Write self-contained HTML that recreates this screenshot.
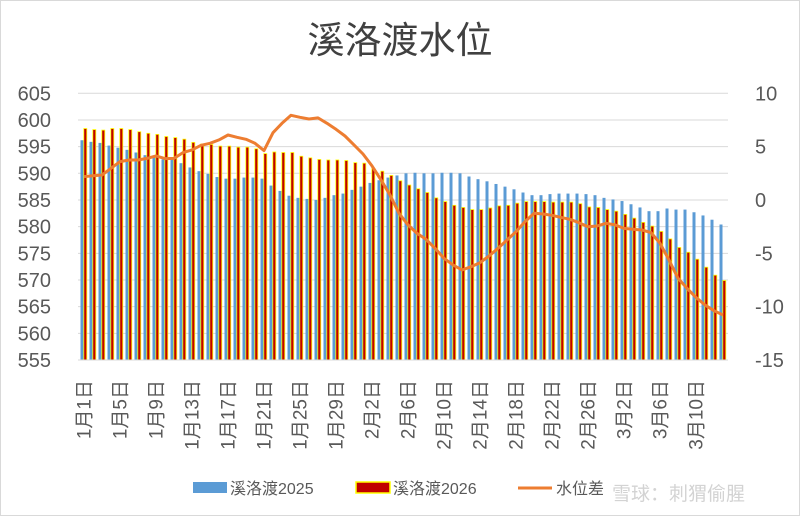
<!DOCTYPE html>
<html><head><meta charset="utf-8"><style>
body{margin:0;background:#fff;}
svg{display:block;font-family:"Liberation Sans","Noto Sans CJK SC",sans-serif;}
</style></head><body>
<svg id="chart" width="800" height="516" viewBox="0 0 800 516">
<rect x="0.5" y="0.5" width="799" height="515" fill="#fff" stroke="#d9d9d9"/>
<text x="400" y="53" text-anchor="middle" font-size="37" fill="#404040">溪洛渡水位</text>
<g id="grid"></g><g id="bars"></g><g id="line"></g><g id="axes"></g>
<g>
<rect x="193" y="482" width="34" height="11" fill="#5b9bd5"/>
<text x="230" y="494" font-size="16" fill="#595959">溪洛渡2025</text>
<rect x="356" y="482" width="34" height="11" fill="#c00000" stroke="#ffff00" stroke-width="1.5"/>
<text x="393" y="494" font-size="16" fill="#595959">溪洛渡2026</text>
<line x1="518" y1="488" x2="552" y2="488" stroke="#ed7d31" stroke-width="3"/>
<text x="556" y="494" font-size="16" fill="#595959">水位差</text>
</g>
<text x="612" y="500" font-size="19" fill="#cccccc" opacity="0.85">雪球：刺猬偷腥</text>
</svg>
<script>
const dayLabels=["1月1日","1月5日","1月9日","1月13日","1月17日","1月21日","1月25日","1月29日","2月2日","2月6日","2月10日","2月14日","2月18日","2月22日","2月26日","3月2日","3月6日","3月10日"];
const leftTicks=[555,560,565,570,575,580,585,590,595,600,605];
const rightTicks=[-15,-10,-5,0,5,10];
const level2025=[596.2,595.9,595.7,595.2,594.8,594.4,593.9,593.4,593.0,592.6,592.6,591.9,591.1,590.4,589.9,589.3,589.0,589.0,589.2,589.2,589.0,587.7,586.7,585.8,585.4,585.2,585.0,585.4,585.9,586.2,586.9,587.5,588.2,588.7,589.2,589.6,590.0,590.1,590.0,590.0,590.1,590.1,590.0,589.4,588.9,588.5,588.0,587.5,587.0,586.4,585.9,585.9,586.1,586.2,586.2,586.2,586.1,585.9,585.4,585.1,584.8,584.2,583.6,582.9,582.9,583.4,583.2,583.2,582.7,582.1,581.3,580.4];
const level2026=[598.4,598.2,598.1,598.4,598.4,598.2,597.8,597.5,597.3,596.9,596.7,596.4,595.8,595.5,595.4,595.1,595.1,594.9,594.9,594.6,593.7,594.0,593.9,593.9,593.2,592.9,592.6,592.5,592.5,592.4,592.0,591.9,590.9,590.4,589.6,588.6,587.8,587.1,586.4,585.4,584.7,584.0,583.6,583.2,583.2,583.5,583.9,584.0,584.4,584.7,584.7,584.7,584.6,584.6,584.6,584.3,583.7,583.6,583.2,582.9,582.3,581.6,580.8,580.1,579.1,577.7,576.1,575.2,573.9,572.4,570.9,569.9];
const levelDiff=[2.19,2.28,2.34,2.97,3.6,3.75,3.75,3.9,4.13,3.88,3.9,4.44,4.69,5.13,5.31,5.63,6.09,5.88,5.69,5.31,4.63,6.31,7.19,7.94,7.75,7.59,7.69,7.19,6.63,6.0,5.16,4.31,3.19,1.88,0.47,-1.25,-2.34,-3.13,-3.69,-4.53,-5.47,-6.09,-6.56,-6.25,-5.88,-5.25,-4.53,-3.75,-2.97,-2.03,-1.25,-1.31,-1.44,-1.63,-1.81,-2.13,-2.5,-2.44,-2.19,-2.34,-2.66,-2.75,-2.81,-3.06,-4.06,-5.63,-7.34,-8.28,-9.13,-9.84,-10.38,-10.78];
const NS="http://www.w3.org/2000/svg";
const X0=79.5,STEP=9,TOP=93.3,BOT=360,PL=78,PR=728;
const yL=v=>BOT-(v-555)/50*(BOT-TOP);
const yR=v=>BOT-(v+15)/25*(BOT-TOP);
const xDay=i=>X0+STEP*i;
function mk(tag,attrs,parent){const e=document.createElementNS(NS,tag);for(const k in attrs)e.setAttribute(k,attrs[k]);parent.appendChild(e);return e;}
const grid=document.getElementById('grid'),bars=document.getElementById('bars'),line=document.getElementById('line'),axes=document.getElementById('axes');
leftTicks.forEach(v=>{
  const g=mk('line',{x1:PL,x2:PR,y1:yL(v),y2:yL(v),stroke:'#d9d9d9','stroke-width':1},grid);
  
  
  const t=mk('text',{x:51,y:yL(v)+7,'text-anchor':'end','font-size':20,fill:'#595959'},axes);
  t.textContent=v;
  
  
});
rightTicks.forEach(v=>{
  const t=mk('text',{x:755,y:yR(v)+7,'text-anchor':'start','font-size':20,fill:'#595959'},axes);
  t.textContent=v;
  
  
});
level2025.forEach((v,i)=>{
  const r=mk('rect',{x:xDay(i)+1,y:yL(v),width:3,height:BOT-yL(v),fill:'#5b9bd5'},bars);
  
  
});
level2026.forEach((v,i)=>{
  const r=mk('rect',{x:xDay(i)+4.3,y:yL(v),width:3,height:BOT-yL(v),fill:'#c00000',stroke:'#ffff00','stroke-width':0.8},bars);
  
  
});
const pts=levelDiff.map((v,i)=>(xDay(i)+4.5).toFixed(1)+','+yR(v).toFixed(1)).join(' ');
const pl=mk('polyline',{points:pts,fill:'none',stroke:'#ed7d31','stroke-width':3,'stroke-linejoin':'round'},line);


const ax=mk('line',{x1:PL,x2:PR,y1:BOT,y2:BOT,stroke:'#d9d9d9'},axes);


dayLabels.forEach((s,k)=>{
  const x=xDay(4*k)+11;
  const t=mk('text',{x:0,y:0,'text-anchor':'end','font-size':19,fill:'#595959',transform:`translate(${x},380) rotate(-90)`},axes);
  t.textContent=s;
  
  
});
</script>
</body></html>
